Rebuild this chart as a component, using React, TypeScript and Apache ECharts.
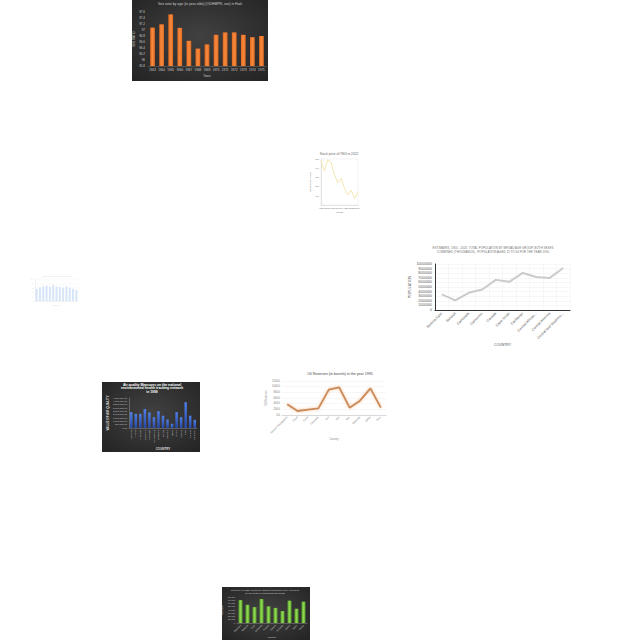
import { useEffect, useRef } from "react";
import * as echarts from "echarts";

// ---- Chart 1: Sex ratio (dark, orange bars)
const sexYears = ["1963", "1964", "1965", "1966", "1967", "1968", "1969", "1970", "1971", "1972", "1973", "1974", "1975"];
const sexRatio = [97.08, 97.19, 97.52, 97.07, 96.64, 96.38, 96.52, 96.84, 96.92, 96.92, 96.84, 96.76, 96.8];

// ---- Chart 2: Stock price (pale yellow line)
const stockMonths = ["Jan", "Feb", "Mar", "Apr", "May", "Jun", "Jul", "Aug", "Sep", "Oct", "Nov", "Dec"];
const stockPrice = [148, 137, 149, 146, 133, 124, 129, 118, 111, 116, 107, 114];

// ---- Chart 3: faint blue bars
const faintCats = ["A", "B", "C", "D", "E", "F", "G", "H", "I", "J", "K", "L", "M"];
const faintVals = [55, 62, 66, 70, 64, 72, 66, 63, 60, 66, 60, 55, 50];

// ---- Chart 4: population line
const popCountries = ["Burkina Faso", "Burundi", "Cambodia", "Cameroon", "Canada", "Cape Verde", "Caribbean", "Central African...", "Central America", "Central and Southern..."];
const popValues = [3380000, 2090000, 3740000, 4460000, 6550000, 6120000, 8060000, 7190000, 6980000, 9140000];

// ---- Chart 5: air quality (dark, blue bars)
const airStates = ["Alabama", "Arizona", "Arkansas", "California", "Colorado", "Connecticut", "Delaware", "Florida", "Georgia", "Idaho", "Illinois", "Indiana", "Iowa", "Kansas", "Kentucky"];
const airValues = [2380000, 2120000, 2120000, 2840000, 2340000, 1620000, 2520000, 1840000, 1260000, 630000, 2380000, 1620000, 3870000, 1840000, 1220000];

// ---- Chart 6: oil reserves (orange line)
const oilCountries = ["Bosnia Herzegovina", "Chad", "Cuba", "Denmark", "Iran", "Iraq", "Italy", "Malaysia", "Qatar", "Peru"];
const oilValues = [376, 141, 188, 235, 894, 976, 259, 506, 941, 259];

// ---- Chart 7: green bars (dark)
const greenCats = ["Argentina", "Belgium", "Chile", "Denmark", "Finland", "Greece", "Hungary", "Ireland", "Japan", "Kenya"];
const greenVals = [70400, 56000, 48800, 73600, 51200, 46400, 36800, 68800, 44000, 65600];

const darkBg = () =>
  new echarts.graphic.RadialGradient(0.5, 0.45, 0.75, [
    { offset: 0, color: "#414141" },
    { offset: 1, color: "#232323" },
  ]);

const fmtComma = (v: number) =>
  v.toLocaleString("en-US", { minimumFractionDigits: 2, maximumFractionDigits: 2 });

export default function App() {
  const ref = useRef<HTMLDivElement>(null);
  useEffect(() => {
    if (!ref.current) return;
    const chart = echarts.init(ref.current, undefined, { renderer: "svg" });
    const font = "Liberation Sans, Arial, sans-serif";
    const option: any = {
      animation: false,
      backgroundColor: "#ffffff",
      textStyle: { fontFamily: font },
      graphic: [
        { type: "rect", z: -10, shape: { x: 132, y: 0, width: 136, height: 81 }, style: { fill: darkBg() } },
        { type: "rect", z: -10, shape: { x: 102, y: 382, width: 98, height: 70 }, style: { fill: darkBg() } },
        { type: "rect", z: -10, shape: { x: 222, y: 587, width: 88, height: 53 }, style: { fill: darkBg() } },
        { type: "text", x: 200, y: 2, style: { text: "Sex ratio by age (in year olds) (ODHMPR, xxx) in Haiti", fontSize: 3.5, fill: "#cccccc", textAlign: "center", fontFamily: font } },
        { type: "text", x: 339, y: 152, style: { text: "Stock price of YNG in 2022", fontSize: 3.2, fill: "#666666", textAlign: "center", fontFamily: font } },
        { type: "text", x: 57, y: 275, style: { text: "Distribution of values by category", fontSize: 2, fill: "#dddddd", textAlign: "center", fontFamily: font } },
        { type: "text", x: 493, y: 246, style: { text: "ESTIMATES, 1950 - 2020: TOTAL POPULATION BY BROAD AGE GROUP, BOTH SEXES\nCOMBINED (THOUSANDS) - POPULATION AGED 15 TO 64 FOR THE YEAR 1955", fontSize: 3, lineHeight: 3.8, fill: "#777777", textAlign: "center", fontFamily: font } },
        { type: "text", x: 152, y: 383, style: { text: "Air quality Measures on the national\nenvironmental health tracking network\nin 1999", fontSize: 3.4, lineHeight: 3.6, fontWeight: "bold", fill: "#ffffff", textAlign: "center", fontFamily: font } },
        { type: "text", x: 340, y: 372, style: { text: "Oil Reserves (in barrels) in the year 1995", fontSize: 3.6, fill: "#444444", textAlign: "center", fontFamily: font } },
        { type: "text", x: 265, y: 589, style: { text: "Revenue (in USD) earned by different countries in the year 2008\nfor the sector of manufacturing goods", fontSize: 2.4, lineHeight: 2.8, fill: "#cccccc", textAlign: "center", fontFamily: font } },
      ],
      grid: [
        { left: 148, top: 12, width: 118, height: 54 },
        { left: 321, top: 159, width: 37, height: 46, show: true, borderColor: "#e4e4e4", borderWidth: 0.5 },
        { left: 35, top: 279, width: 43, height: 22 },
        { left: 435, top: 264, width: 135, height: 46 },
        { left: 129, top: 398, width: 68, height: 30 },
        { left: 282, top: 381, width: 104, height: 34 },
        { left: 237, top: 597, width: 70, height: 27 },
      ],
      xAxis: [
        {
          gridIndex: 0, type: "category", data: sexYears,
          axisLine: { lineStyle: { color: "#777", width: 0.5 } }, axisTick: { show: false },
          axisLabel: { fontSize: 3, color: "#cccccc", margin: 2, interval: 0 },
          name: "Years", nameLocation: "middle", nameGap: 8, nameTextStyle: { fontSize: 3, color: "#cccccc" },
        },
        {
          gridIndex: 1, type: "category", data: stockMonths, boundaryGap: false,
          axisLine: { lineStyle: { color: "#cccccc", width: 0.5 } }, axisTick: { show: false },
          axisLabel: { fontSize: 2.2, color: "#777", margin: 2, interval: 0 },
          name: "Month", nameLocation: "middle", nameGap: 6, nameTextStyle: { fontSize: 2.5, color: "#777" },
        },
        {
          gridIndex: 2, type: "category", data: faintCats,
          axisLine: { lineStyle: { color: "#e6e6e6", width: 0.5 } }, axisTick: { show: false },
          axisLabel: { show: false },
          name: "Category", nameLocation: "middle", nameGap: 3, nameTextStyle: { fontSize: 2, color: "#e0e0e0" },
        },
        {
          gridIndex: 3, type: "category", data: popCountries,
          axisLine: { lineStyle: { color: "#333", width: 1 } }, axisTick: { show: false },
          splitLine: { show: true, lineStyle: { color: "#eeeeee", width: 0.5 } },
          axisLabel: { fontSize: 3.5, color: "#555", margin: 3, rotate: 45, interval: 0 },
          name: "COUNTRY", nameLocation: "middle", nameGap: 33, nameTextStyle: { fontSize: 3.5, color: "#555" },
        },
        {
          gridIndex: 4, type: "category", data: airStates,
          axisLine: { lineStyle: { color: "#888", width: 0.5 } }, axisTick: { show: false },
          axisLabel: { fontSize: 2.4, color: "#cccccc", margin: 2, rotate: 90, interval: 0 },
          name: "COUNTRY", nameLocation: "middle", nameGap: 19, nameTextStyle: { fontSize: 3, color: "#dddddd", fontWeight: "bold" },
        },
        {
          gridIndex: 5, type: "category", data: oilCountries,
          axisLine: { lineStyle: { color: "#bbbbbb", width: 0.5 } }, axisTick: { show: false },
          axisLabel: { fontSize: 2.6, color: "#777", margin: 2, rotate: 45, interval: 0 },
          name: "Country", nameLocation: "middle", nameGap: 20, nameTextStyle: { fontSize: 2.6, color: "#888" },
        },
        {
          gridIndex: 6, type: "category", data: greenCats,
          axisLine: { lineStyle: { color: "#888", width: 0.5 } }, axisTick: { show: false },
          axisLabel: { fontSize: 2.2, color: "#cccccc", margin: 2, rotate: 45, interval: 0 },
          name: "Country", nameLocation: "middle", nameGap: 13, nameTextStyle: { fontSize: 2.5, color: "#cccccc" },
        },
      ],
      yAxis: [
        {
          gridIndex: 0, type: "value", min: 95.8, max: 97.6, interval: 0.2,
          axisLine: { show: false }, axisTick: { show: false }, splitLine: { show: false },
          axisLabel: { fontSize: 3, color: "#cccccc", margin: 3, formatter: (v: number) => String(Math.round(v * 10) / 10) },
          name: "SEX RATIO", nameLocation: "middle", nameGap: 10, nameRotate: 90, nameTextStyle: { fontSize: 3, color: "#cccccc" },
        },
        {
          gridIndex: 1, type: "value", min: 100, max: 150, interval: 10,
          axisLine: { show: true, lineStyle: { color: "#cccccc", width: 0.5 } }, axisTick: { show: false }, splitLine: { show: false },
          axisLabel: { fontSize: 2.2, color: "#777", margin: 2, showMinLabel: false },
          name: "Stock Price (USD)", nameLocation: "middle", nameGap: 7, nameRotate: 90, nameTextStyle: { fontSize: 2.5, color: "#777" },
        },
        {
          gridIndex: 2, type: "value", min: 0, max: 100, interval: 20,
          axisLine: { show: true, lineStyle: { color: "#e4e4e4", width: 0.5 } }, axisTick: { show: false },
          splitLine: { show: true, lineStyle: { color: "#f0f0f0", width: 0.4 } },
          axisLabel: { fontSize: 1.8, color: "#dddddd", margin: 1.5 },
        },
        {
          gridIndex: 3, type: "value", min: 0, max: 10000000, interval: 1000000,
          axisLine: { show: true, lineStyle: { color: "#333", width: 1 } }, axisTick: { show: false },
          splitLine: { show: true, lineStyle: { color: "#eeeeee", width: 0.5 } },
          axisLabel: { fontSize: 3.5, color: "#555", margin: 3, formatter: (v: number) => String(v) },
          name: "POPULATION", nameLocation: "middle", nameGap: 23, nameRotate: 90, nameTextStyle: { fontSize: 3.5, color: "#555" },
        },
        {
          gridIndex: 4, type: "value", min: 0, max: 4500000, interval: 500000,
          axisLine: { show: true, lineStyle: { color: "#999", width: 0.5 } }, axisTick: { show: false }, splitLine: { show: false },
          axisLabel: { fontSize: 2.4, color: "#cccccc", margin: 2, formatter: (v: number) => fmtComma(v) },
          name: "VALUE OF AIR QUALITY", nameLocation: "middle", nameGap: 20, nameRotate: 90, nameTextStyle: { fontSize: 3, color: "#dddddd", fontWeight: "bold" },
        },
        {
          gridIndex: 5, type: "value", min: 0, max: 1200, interval: 200,
          axisLine: { show: false }, axisTick: { show: false },
          splitLine: { show: true, lineStyle: { color: "#eeeeee", width: 0.5 } },
          axisLabel: { fontSize: 2.6, color: "#777", margin: 2, formatter: (v: number) => v.toFixed(1) },
          name: "Oil Reserves", nameLocation: "middle", nameGap: 10, nameRotate: 90, nameTextStyle: { fontSize: 2.6, color: "#888" },
        },
        {
          gridIndex: 6, type: "value", min: 0, max: 80000, interval: 10000,
          axisLine: { show: false }, axisTick: { show: false }, splitLine: { show: false },
          axisLabel: { fontSize: 2.3, color: "#cccccc", margin: 2 },
          name: "Revenue", nameLocation: "middle", nameGap: 10, nameRotate: 90, nameTextStyle: { fontSize: 2.5, color: "#cccccc" },
        },
      ],
      series: [
        {
          type: "bar", xAxisIndex: 0, yAxisIndex: 0, data: sexRatio, barWidth: "52%",
          itemStyle: {
            color: new echarts.graphic.LinearGradient(0, 0, 1, 0, [
              { offset: 0, color: "#e2691f" },
              { offset: 0.5, color: "#f68a3e" },
              { offset: 1, color: "#e2691f" },
            ]),
          },
        },
        {
          type: "line", xAxisIndex: 1, yAxisIndex: 1, data: stockPrice, showSymbol: false,
          lineStyle: { color: "#f3e7b0", width: 1 },
        },
        {
          type: "bar", xAxisIndex: 2, yAxisIndex: 2, data: faintVals, barWidth: "60%",
          itemStyle: { color: "#d6e5f8" },
        },
        {
          type: "line", xAxisIndex: 3, yAxisIndex: 3, data: popValues, showSymbol: false,
          lineStyle: { color: "#cbcbcb", width: 2 },
        },
        {
          type: "bar", xAxisIndex: 4, yAxisIndex: 4, data: airValues, barWidth: "55%",
          itemStyle: {
            color: new echarts.graphic.LinearGradient(0, 0, 0, 1, [
              { offset: 0, color: "#4f7fe6" },
              { offset: 1, color: "#2748a6" },
            ]),
          },
        },
        {
          type: "line", xAxisIndex: 5, yAxisIndex: 5, data: oilValues, showSymbol: false,
          lineStyle: { color: "#c98a5b", width: 1.8, shadowColor: "rgba(245,170,110,0.7)", shadowBlur: 3 },
        },
        {
          type: "bar", xAxisIndex: 6, yAxisIndex: 6, data: greenVals, barWidth: "56%",
          itemStyle: {
            color: new echarts.graphic.LinearGradient(0, 0, 1, 0, [
              { offset: 0, color: "#5aa72c" },
              { offset: 0.5, color: "#8fd450" },
              { offset: 1, color: "#5aa72c" },
            ]),
          },
        },
      ],
    };
    chart.setOption(option);
    return () => chart.dispose();
  }, []);
  return (
    <div
      ref={ref}
      style={{ position: "fixed", left: 0, top: 0, width: 640, height: 640, background: "#fff" }}
    />
  );
}
